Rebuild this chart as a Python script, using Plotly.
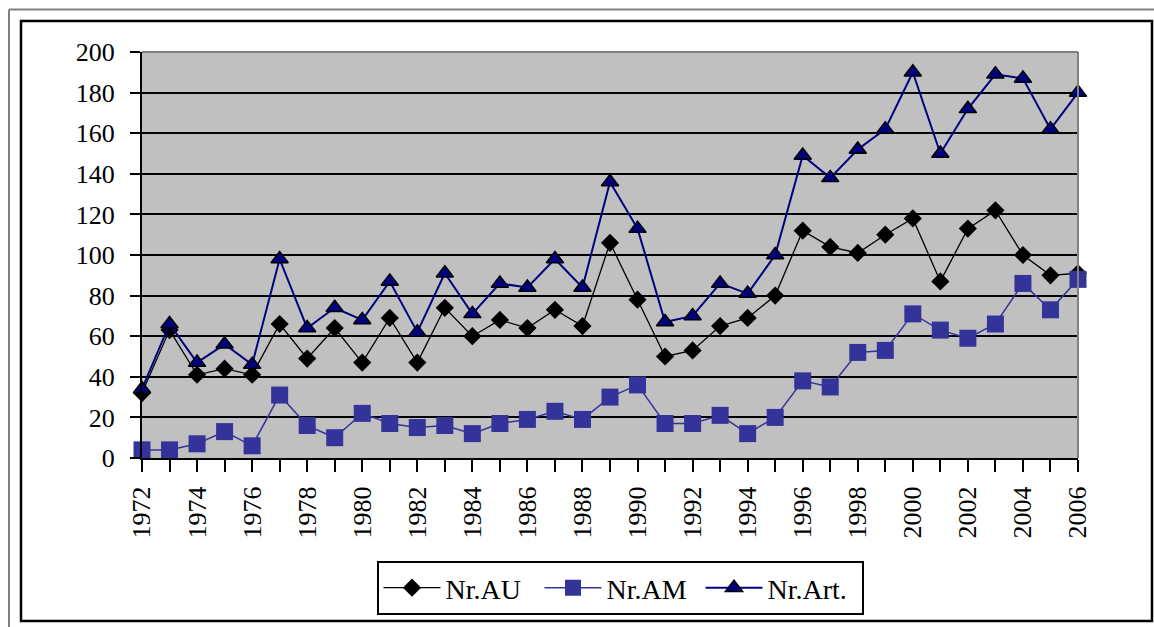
import plotly.graph_objects as go

years = list(range(1972, 2007))
nr_au = [32, 63, 41, 44, 41, 66, 49, 64, 47, 69, 47, 74, 60, 68, 64, 73, 65, 106,
         78, 50, 53, 65, 69, 80, 112, 104, 101, 110, 118, 87, 113, 122, 100, 90, 91]
nr_am = [4, 4, 7, 13, 6, 31, 16, 10, 22, 17, 15, 16, 12, 17, 19, 23, 19, 30,
         36, 17, 17, 21, 12, 20, 38, 35, 52, 53, 71, 63, 59, 66, 86, 73, 88]
nr_art = [34, 66, 47, 56, 46, 98, 64, 74, 68, 87, 62, 91, 71, 86, 84, 98, 84, 136,
          113, 67, 70, 86, 81, 100, 149, 138, 152, 162, 190, 150, 172, 189, 187, 162, 180]
series_names = ["Nr.AU", "Nr.AM", "Nr.Art."]
y_ticks = list(range(0, 201, 20))

FONT = "Liberation Serif"

fig = go.Figure()
fig.add_trace(go.Scatter(
    x=years, y=nr_au, name=series_names[0], mode="lines+markers",
    line=dict(color="black", width=1.3),
    marker=dict(symbol="diamond", size=14, color="black"),
    cliponaxis=False))
fig.add_trace(go.Scatter(
    x=years, y=nr_am, name=series_names[1], mode="lines+markers",
    line=dict(color="#333399", width=1.5),
    marker=dict(symbol="square", size=17, color="#333399"),
    cliponaxis=False))
fig.add_trace(go.Scatter(
    x=years, y=nr_art, name=series_names[2], mode="lines+markers",
    line=dict(color="#000080", width=2),
    marker=dict(symbol="triangle-up", size=15, color="#000080",
                line=dict(color="black", width=1.5)),
    cliponaxis=False))

L, R, T, B = 142, 1078, 52, 458
W, H = 1154, 627
pw, ph = R - L, B - T


def px(xp):
    return (xp - L) / pw


def py(yp):
    return (B - yp) / ph


shapes = [
    dict(type="line", xref="paper", yref="paper", x0=0, x1=1, y0=1, y1=1,
         line=dict(color="#808080", width=2)),
    dict(type="line", xref="paper", yref="paper", x0=1, x1=1, y0=0, y1=1,
         line=dict(color="#808080", width=2)),
    dict(type="rect", xref="paper", yref="paper", x0=px(21), x1=px(1152),
         y0=py(621), y1=py(21), line=dict(color="black", width=2.5)),
    dict(type="line", xref="paper", yref="paper", x0=px(9), x1=px(1160),
         y0=py(9.5), y1=py(9.5), line=dict(color="#808080", width=2)),
    dict(type="line", xref="paper", yref="paper", x0=px(9), x1=px(9),
         y0=py(640), y1=py(9.5), line=dict(color="#808080", width=2)),
]

fig.update_layout(
    width=W, height=H,
    margin=dict(l=L, r=W - R, t=T, b=H - B, autoexpand=False),
    paper_bgcolor="white",
    plot_bgcolor="#C0C0C0",
    font=dict(family=FONT, size=26, color="black"),
    showlegend=True,
    legend=dict(
        orientation="h", x=px(620), xanchor="center", y=py(561), yanchor="top",
        bgcolor="white", bordercolor="black", borderwidth=2,
        font=dict(family=FONT, size=28, color="black"),
        itemwidth=57, tracegroupgap=0,
        entrywidth=89, entrywidthmode="pixels",
    ),
    shapes=shapes,
    xaxis=dict(
        range=[1972, 2006], tick0=1972, dtick=2, tickangle=-90,
        ticks="outside", ticklen=12, tickwidth=2, tickcolor="black",
        minor=dict(dtick=1, tick0=1972, ticks="outside", ticklen=12,
                   tickwidth=2, tickcolor="black", showgrid=False),
        showgrid=False, zeroline=False,
        showline=True, linecolor="black", linewidth=2,
        tickfont=dict(family=FONT, size=26, color="black"),
        ticklabelstandoff=4,
        fixedrange=True,
    ),
    yaxis=dict(
        range=[0, 200], tickvals=y_ticks, ticktext=[str(v) for v in y_ticks],
        ticks="outside", ticklen=10, tickwidth=2, tickcolor="black",
        showgrid=True, gridcolor="black", gridwidth=2, zeroline=False,
        showline=True, linecolor="black", linewidth=2,
        tickfont=dict(family=FONT, size=26, color="black"),
        ticklabelstandoff=10,
        fixedrange=True,
    ),
)

fig.write_html(
    "out.html",
    config={"displayModeBar": False},
    post_script="document.body.style.margin='0';document.documentElement.style.overflow='hidden';",
)
